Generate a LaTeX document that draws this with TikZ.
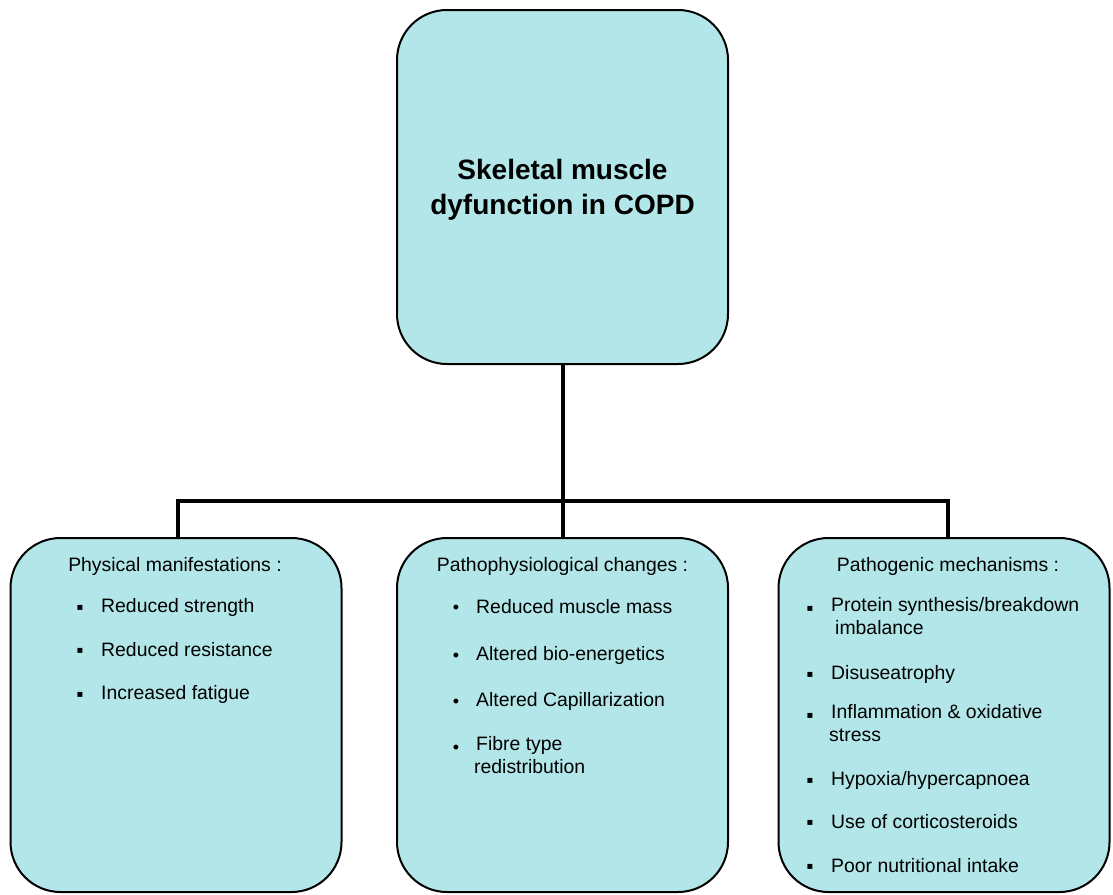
\documentclass[tikz,border=0pt]{standalone}
\usepackage{fontspec}
\setmainfont{Liberation Sans}
\newfontfamily\dejavu{DejaVu Sans}
\definecolor{boxfill}{HTML}{B3E6E8}
\tikzset{
  box/.style={draw=black, line width=2pt, fill=boxfill, rounded corners=50pt,
    minimum width=331pt, minimum height=354pt, inner sep=0pt},
  conn/.style={line width=4pt},
  hdr/.style={font=\fontsize{19.4}{23}\selectfont, anchor=center, inner sep=0pt},
  item/.style={font=\fontsize{19.4}{23}\selectfont, anchor=west, align=left, inner sep=0pt},
  sq/.style={font=\dejavu\fontsize{10}{10}\selectfont, anchor=center, inner sep=0pt, yshift=-2pt},
  rb/.style={font=\fontsize{18}{18}\selectfont, anchor=center, inner sep=0pt, yshift=-2pt},
}
\begin{document}
\begin{tikzpicture}[x=1pt,y=-1pt]
\useasboundingbox (0,0) rectangle (1113,894);
% boxes
\node[box] (top) at (562.5,187) {};
\node[box] (left) at (176,715) {};
\node[box] (mid) at (562.5,715) {};
\node[box] (right) at (944,715) {};
% connectors
\coordinate (j) at (562.5,501);
\draw[conn] (top.south) -- (mid.north);
\draw[conn] ([xshift=2pt]left.north) |- (j) -| ([xshift=4pt]right.north);
% title
\node[font=\bfseries\fontsize{28}{35}\selectfont, align=center, inner sep=0pt] (title) at (562.5,190) {Skeletal muscle\\dyfunction in COPD};
% left
\node[hdr] (lh) at (175,566) {Physical manifestations :};
\node[sq] (lb1) at (80,606) {▪};
\node[item] (l1) at (101,607) {Reduced strength};
\node[sq] (lb2) at (80,649) {▪};
\node[item] (l2) at (101,650) {Reduced resistance};
\node[sq] (lb3) at (80,693) {▪};
\node[item] (l3) at (101,694) {Increased fatigue};
% middle
\node[hdr] (mh) at (562.5,566) {Pathophysiological changes :};
\node[rb] (mb1) at (456,607) {•};
\node[item] (m1) at (476,607) {Reduced muscle mass};
\node[rb] (mb2) at (456,655) {•};
\node[item] (m2) at (476,655) {Altered bio-energetics};
\node[rb] (mb3) at (456,701) {•};
\node[item] (m3) at (476,701) {Altered Capillarization};
\node[rb] (mb4) at (456,747) {•};
\node[item, anchor=north west] (m4) at (474,736) {\hspace*{2pt}Fibre type\\redistribution};
% right
\node[sq] (rb1) at (810,607) {▪};
\node[hdr] (rh) at (948,566) {Pathogenic mechanisms :};
\node[item, anchor=north west] (r1) at (831,597) {Protein synthesis/breakdown\\\hspace*{4pt}imbalance};
\node[sq] (rb2) at (810,673) {▪};
\node[item] (r2) at (831,674) {Disuseatrophy};
\node[sq] (rb3) at (810,714) {▪};
\node[item, anchor=north west] (r3) at (829,704) {\hspace*{2pt}Inflammation \& oxidative\\stress};
\node[sq] (rb4) at (810,779) {▪};
\node[item] (r4) at (831,780) {Hypoxia/hypercapnoea};
\node[sq] (rb5) at (810,821) {▪};
\node[item] (r5) at (831,822) {Use of corticosteroids};
\node[sq] (rb6) at (810,865) {▪};
\node[item] (r6) at (831,866) {Poor nutritional intake};
\end{tikzpicture}
\end{document}
